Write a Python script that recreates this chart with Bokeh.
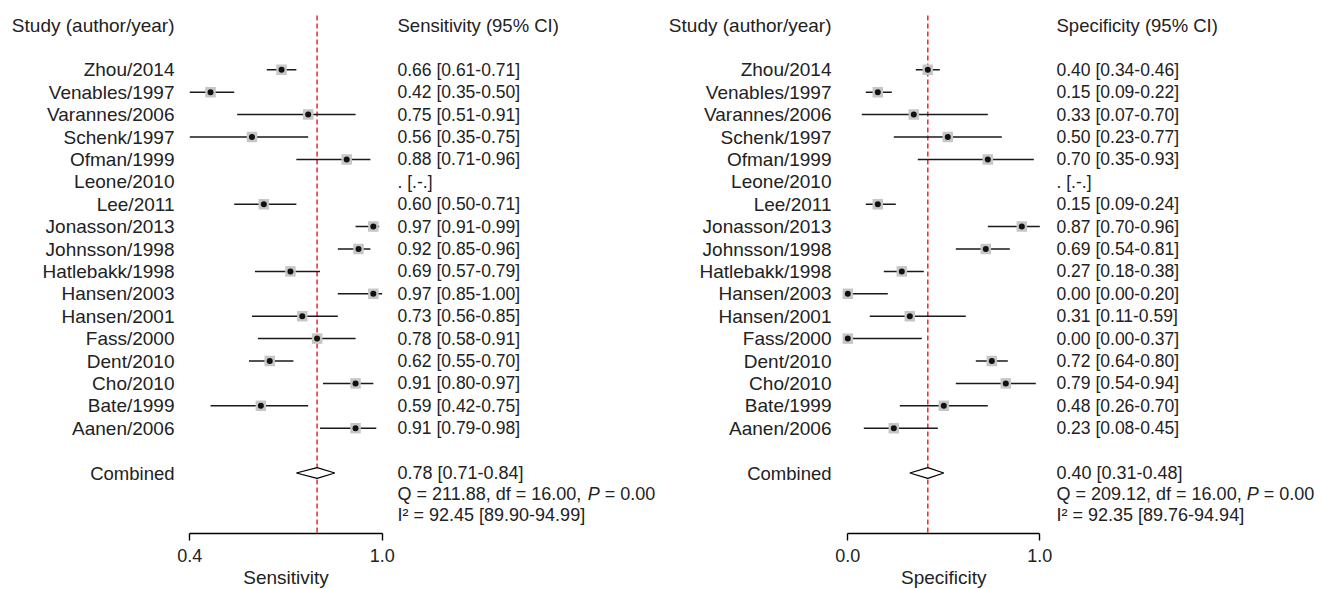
import numpy as np
from bokeh.plotting import figure
from bokeh.models import Range1d, FixedTicker, ColumnDataSource, Title
from bokeh.layouts import row
from bokeh.embed import file_html
from bokeh.resources import INLINE
from bokeh.core.properties import value

nan = float("nan")

studies = ["Zhou/2014", "Venables/1997", "Varannes/2006", "Schenk/1997", "Ofman/1999",
           "Leone/2010", "Lee/2011", "Jonasson/2013", "Johnsson/1998", "Hatlebakk/1998",
           "Hansen/2003", "Hansen/2001", "Fass/2000", "Dent/2010", "Cho/2010",
           "Bate/1999", "Aanen/2006"]

sens_est = [0.66, 0.42, 0.75, 0.56, 0.88, nan, 0.60, 0.97, 0.92, 0.69, 0.97, 0.73, 0.78, 0.62, 0.91, 0.59, 0.91]
sens_lo = [0.61, 0.35, 0.51, 0.35, 0.71, nan, 0.50, 0.91, 0.85, 0.57, 0.85, 0.56, 0.58, 0.55, 0.80, 0.42, 0.79]
sens_hi = [0.71, 0.50, 0.91, 0.75, 0.96, nan, 0.71, 0.99, 0.96, 0.79, 1.00, 0.85, 0.91, 0.70, 0.97, 0.75, 0.98]
sens_pooled = [0.78, 0.71, 0.84]
sens_q = ["211.88", "16.00", "0.00"]          # Q, df, P
sens_i2 = "92.45 [89.90-94.99]"
sens_tick_labels = ["0.4", "1.0"]

spec_est = [0.40, 0.15, 0.33, 0.50, 0.70, nan, 0.15, 0.87, 0.69, 0.27, 0.00, 0.31, 0.00, 0.72, 0.79, 0.48, 0.23]
spec_lo = [0.34, 0.09, 0.07, 0.23, 0.35, nan, 0.09, 0.70, 0.54, 0.18, 0.00, 0.11, 0.00, 0.64, 0.54, 0.26, 0.08]
spec_hi = [0.46, 0.22, 0.70, 0.77, 0.93, nan, 0.24, 0.96, 0.81, 0.38, 0.20, 0.59, 0.37, 0.80, 0.94, 0.70, 0.45]
spec_pooled = [0.40, 0.31, 0.48]
spec_q = ["209.12", "16.00", "0.00"]
spec_i2 = "92.35 [89.76-94.94]"
spec_tick_labels = ["0.0", "1.0"]

# ---- layout constants (pixels) ----
PANEL_W = 661
FRAME_H = 533
BOTTOM = 56
ROW0_PX = 69.3      # pixel of first study row
ROW_PX = 22.4       # pixels per row
FONT = "Liberation Sans"
TXT = "#222222"
TITLE_SIZE = 19
STAT_SIZE = 18
# Arial/Liberation Sans advance widths (em) used for text placement
EM_W = {"S": .667, "e": .556, "n": .556, "s": .5, "i": .222, "t": .278, "v": .5,
        "y": .5, "p": .556, "c": .5, "f": .278, "Q": .778, "d": .556, " ": .278,
        "=": .584, ",": .278, ".": .278, "P": .667}


def text_w(s, size):
    return sum(EM_W.get(c, 0.556) for c in s) * size


def fmt(e, l, h):
    if np.isnan(e):
        return ". [.-.]"
    return f"{e:.2f} [{l:.2f}-{h:.2f}]"


def panel(est, lo, hi, pooled, qstats, i2, tick_labels, measure, axis_px, axis_len_px,
          name_px, txt_px):
    est = np.array(est); lo = np.array(lo); hi = np.array(hi)
    amin, amax = float(np.nanmin(lo)), float(np.nanmax(hi))
    ppu = axis_len_px / (amax - amin)
    x0 = amin - axis_px / ppu
    x1 = x0 + PANEL_W / ppu
    y_top = -ROW0_PX / ROW_PX
    y_bot = (FRAME_H - ROW0_PX) / ROW_PX

    def px2x(px):
        return amin + (px - axis_px) / ppu

    def py2y(py):
        return (py - ROW0_PX) / ROW_PX

    p = figure(frame_width=PANEL_W, frame_height=FRAME_H, output_backend="svg",
               toolbar_location=None, x_range=Range1d(x0, x1),
               y_range=Range1d(y_bot, y_top), y_axis_location=None,
               min_border=0, min_border_bottom=BOTTOM, outline_line_color=None)
    p.xgrid.visible = False
    p.ygrid.visible = False

    n = len(studies)
    rows = np.arange(n, dtype=float)
    comb_row = n + 1
    head_row = -2

    # pooled reference line
    p.segment(x0=[pooled[0]], y0=[py2y(15)], x1=[pooled[0]], y1=[y_bot],
              line_color="#e8282f", line_width=1.5, line_dash="5 3")

    src = ColumnDataSource(dict(y=rows, est=est, lo=lo, hi=hi))
    p.segment(x0="lo", y0="y", x1="hi", y1="y", source=src, line_color="#1a1a1a", line_width=1.5)
    p.scatter(x="est", y="y", source=src, marker="square", size=10.5,
              fill_color="#c6c6c6", line_color=None)
    p.scatter(x="est", y="y", source=src, marker="circle", size=6,
              fill_color="#111111", line_color=None)

    # diamond
    dh = 0.24
    p.patch(x=[pooled[1], pooled[0], pooled[2], pooled[0]],
            y=[comb_row, comb_row - dh, comb_row, comb_row + dh],
            fill_color="white", line_color="black", line_width=1.2)

    # study names & CI text
    nx = px2x(name_px)
    tx = px2x(txt_px)
    p.text(x=[nx] * n, y=rows, text=studies, text_align="right", text_baseline="middle",
           text_font=value(FONT), text_font_size="19px", text_color=TXT)
    p.text(x=[tx] * n, y=rows, text=[fmt(e, l, h) for e, l, h in zip(est, lo, hi)],
           text_align="left", text_baseline="middle",
           text_font=value(FONT), text_font_size="17.5px", text_color=TXT)
    # headers
    p.text(x=[nx], y=[head_row], text=["Study (author/year)"], text_align="right",
           text_baseline="middle", text_font=value(FONT), text_font_size="19px", text_color=TXT)
    p.text(x=[tx], y=[head_row], text=[f"{measure} (95% CI)"], text_align="left",
           text_baseline="middle", text_font=value(FONT), text_font_size="18.5px", text_color=TXT)
    # combined
    p.text(x=[nx], y=[comb_row], text=["Combined"], text_align="right",
           text_baseline="middle", text_font=value(FONT), text_font_size="18.5px", text_color=TXT)
    q_row = comb_row + 0.94
    i_row = comb_row + 1.86
    p.text(x=[tx, tx], y=[comb_row, i_row],
           text=[fmt(*pooled), "I\u00b2 = " + i2], text_align="left", text_baseline="middle",
           text_font=value(FONT), text_font_size=f"{STAT_SIZE}px", text_color=TXT)
    # heterogeneity line with italic P
    pre = f"Q = {qstats[0]}, df = {qstats[1]}, "
    pre_w = text_w(pre, STAT_SIZE)
    p_w = text_w("P ", STAT_SIZE)
    p.text(x=[tx, px2x(txt_px + pre_w + p_w)], y=[q_row, q_row],
           text=[pre.rstrip(), f"= {qstats[2]}"], text_align="left", text_baseline="middle",
           text_font=value(FONT), text_font_size=f"{STAT_SIZE}px", text_color=TXT)
    p.text(x=[px2x(txt_px + pre_w)], y=[q_row], text=["P"], text_align="left",
           text_baseline="middle", text_font=value(FONT), text_font_size=f"{STAT_SIZE}px",
           text_font_style="italic", text_color=TXT)

    ax = p.xaxis[0]
    ax.bounds = (amin, amax)
    ax.ticker = FixedTicker(ticks=[amin, amax])
    ax.major_label_overrides = {amin: tick_labels[0], amax: tick_labels[1]}
    ax.minor_tick_line_color = None
    ax.major_tick_in = 0
    ax.major_tick_out = 7
    ax.axis_line_color = "black"
    ax.axis_line_width = 1.4
    ax.major_tick_line_color = "black"
    ax.major_tick_line_width = 1.4
    ax.major_label_standoff = 8
    ax.major_label_text_font = FONT
    ax.major_label_text_font_size = "18px"
    ax.major_label_text_color = TXT

    # axis title centred under the axis span (Title below the axis)
    w = text_w(measure, TITLE_SIZE)
    centre = axis_px + axis_len_px / 2
    t = Title(text=measure, align="left", offset=centre - w / 2, standoff=0,
              text_font=FONT, text_font_size=f"{TITLE_SIZE}px", text_font_style="normal",
              text_color=TXT)
    p.add_layout(t, "below")
    return p


p1 = panel(sens_est, sens_lo, sens_hi, sens_pooled, sens_q, sens_i2, sens_tick_labels,
           "Sensitivity", axis_px=189.3, axis_len_px=192.4, name_px=174, txt_px=397)
p2 = panel(spec_est, spec_lo, spec_hi, spec_pooled, spec_q, spec_i2, spec_tick_labels,
           "Specificity", axis_px=186.3, axis_len_px=192.0, name_px=170, txt_px=395)

layout = row(p1, p2, spacing=0)
open("out.html", "w").write(file_html(layout, INLINE))
